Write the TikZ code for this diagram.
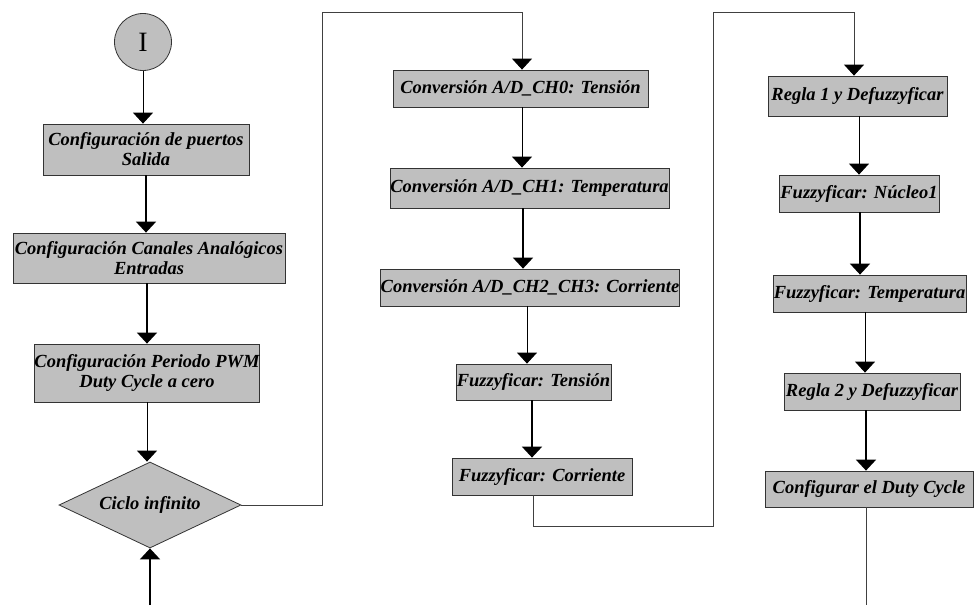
\documentclass[tikz,border=0pt]{standalone}
\usepackage{fontspec}
\setmainfont{Liberation Serif}
\usetikzlibrary{arrows.meta,shapes.geometric,calc}
\begin{document}
\begin{tikzpicture}[x=1pt,y=-1pt,
  txt/.style={font=\fontsize{18.5}{20}\selectfont\bfseries\itshape},
  box/.style={txt, draw=black!80, fill=gray!50, line width=0.8pt, inner sep=0pt, align=center},
  flow/.style={line width=1pt, -{Triangle[width=20pt,length=11pt]}},
  flowthick/.style={flow, line width=1.8pt},
  wire/.style={line width=1pt, draw=black!75},
  wirearrow/.style={wire, -{Triangle[width=20pt,length=11pt,color=black]}}]
\useasboundingbox (0,0) rectangle (976,605);

% left column
\node[circle, draw=black!80, fill=gray!50, line width=0.8pt, minimum size=57pt, inner sep=0pt, font=\fontsize{28}{30}\selectfont] (start) at (143,42) {I};
\node[box, minimum width=206pt, minimum height=51pt] (b1) at (146,149.5) {Configuración de puertos\\Salida};
\node[box, minimum width=272pt, minimum height=50pt] (b2) at (149,258) {Configuración Canales Analógicos\\Entradas};
\node[box, minimum width=224pt, minimum height=58pt] (b3) at (147,373) {Configuración Periodo PWM\\Duty Cycle a cero};
\node[txt, diamond, aspect=2.1, draw=black!80, fill=gray!50, line width=0.8pt, minimum width=182pt, minimum height=86pt, inner sep=0pt] (loop) at (150,505) {Ciclo infinito};

% middle column
\node[box, minimum width=255pt, minimum height=37pt] (m1) at (520.5,88.5) {Conversión A/D\_CH0: Tensión};
\node[box, minimum width=279pt, minimum height=40pt] (m2) at (529.5,188) {Conversión A/D\_CH1: Temperatura};
\node[box, minimum width=294pt, minimum height=37pt] (m3) at (530,287.5) {Conversión A/D\_CH2\_CH3: Corriente};
\node[box, minimum width=155pt, minimum height=36pt] (m4) at (533.5,382) {Fuzzyficar: Tensión};
\node[box, minimum width=180pt, minimum height=37pt] (m5) at (542,476.5) {Fuzzyficar: Corriente};

% right column
\node[box, minimum width=179pt, minimum height=40pt] (r1) at (857.5,96) {Regla 1 y Defuzzyficar};
\node[box, minimum width=160pt, minimum height=37pt] (r2) at (859,193.5) {Fuzzyficar: Núcleo1};
\node[box, minimum width=193pt, minimum height=37pt] (r3) at (869.5,293.5) {Fuzzyficar: Temperatura};
\node[box, minimum width=176pt, minimum height=37pt] (r4) at (872,391.5) {Regla 2 y Defuzzyficar};
\node[box, minimum width=208pt, minimum height=36pt] (r5) at (869,489) {Configurar el Duty Cycle};

% junction coordinates
\coordinate (j1) at (322,12);
\coordinate (j2) at (713,526);
\coordinate (j3) at (713,12);
\coordinate (bin) at (150,605);
\coordinate (rout) at (866,605);

% left connectors
\draw[flow] (start.south) -- (start.south |- b1.north);
\draw[flowthick] (b1.south) -- (b1.south |- b2.north);
\draw[flowthick] ([xshift=-2pt]b2.south) -- ([xshift=-2pt]b2.south |- b3.north);
\draw[flow] (b3.south) -- (b3.south |- loop.north);
\draw[flowthick] (bin) -- (loop.south);

% loop to middle column
\draw[wirearrow] (loop.east) -| (j1) -| ([xshift=1.5pt]m1.north);
\draw[flow] ([xshift=1.5pt]m1.south) -- ([xshift=1.5pt]m1.south |- m2.north);
\draw[flowthick] ([xshift=-6.5pt]m2.south) -- ([xshift=-6.5pt]m2.south |- m3.north);
\draw[flow] ([xshift=-3pt]m3.south) -- ([xshift=-3pt]m3.south |- m4.north);
\draw[flowthick] ([xshift=-1.5pt]m4.south) -- ([xshift=-1.5pt]m4.south |- m5.north);

% middle to right column
\draw[wirearrow] ([xshift=-9pt]m5.south) |- (j2) -- (j3) -| ([xshift=-3.5pt]r1.north);
\draw[flow] ([xshift=1.5pt]r1.south) -- ([xshift=1.5pt]r1.south |- r2.north);
\draw[flowthick] ([xshift=1pt]r2.south) -- ([xshift=1pt]r2.south |- r3.north);
\draw[flow] ([xshift=-4.5pt]r3.south) -- ([xshift=-4.5pt]r3.south |- r4.north);
\draw[flowthick] ([xshift=-6pt]r4.south) -- ([xshift=-6pt]r4.south |- r5.north);
\draw[wire] ([xshift=-3pt]r5.south) -- ([xshift=-3pt]r5.south |- rout);
\end{tikzpicture}
\end{document}
